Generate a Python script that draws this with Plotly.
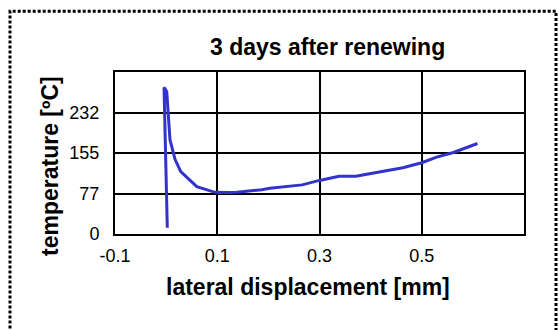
import plotly.graph_objects as go

# data
displacement = [0.0023, -0.0041, 0.0012, 0.0076, 0.0174, 0.0286, 0.060, 0.0957, 0.121,
                0.138, 0.187, 0.203, 0.266, 0.300, 0.338, 0.371, 0.417, 0.463, 0.500,
                0.529, 0.562, 0.609]
temperature = [12, 280, 271.7, 179.5, 142.6, 119, 90.3, 79.6, 79.3,
               79.6, 84.6, 87.3, 93.8, 102.3, 110.1, 110.1, 118.5, 126.4, 136.1,
               146.7, 155.7, 172.8]

x_ticks = [-0.1, 0.1, 0.3, 0.5]
x_ticktext = ["-0.1", "0.1", "0.3", "0.5"]
y_ticks = [0, 77.33, 154.67, 232, 309.33]
y_ticktext = ["0", "77", "155", "232", ""]

W, H = 559, 330
L, R, T, B = 115, 524, 72, 234
pw, ph = R - L, B - T

def px(x):
    return (x - L) / pw

def py(y):
    return (B - y) / ph

FONT = "Liberation Sans, Arial, sans-serif"

fig = go.Figure()
fig.add_trace(go.Scatter(
    x=displacement, y=temperature, mode="lines",
    line=dict(color="#3333CC", width=3), showlegend=False,
))

axis_common = dict(
    showgrid=True, gridcolor="black", gridwidth=2,
    showline=True, linecolor="black", linewidth=2, mirror=True,
    zeroline=False, ticks="",
    tickfont=dict(family=FONT, size=18, color="black"),
)

fig.update_xaxes(range=[-0.1, 0.7], tickvals=x_ticks, ticktext=x_ticktext,
                 ticklabelstandoff=4, **axis_common)
fig.update_yaxes(range=[0, 309.33], tickvals=y_ticks, ticktext=y_ticktext,
                 ticklabelstandoff=10, **axis_common)

annos = [
    dict(text="<b>3 days after renewing</b>", x=px(327.5), y=py(47), size=23),
    dict(text="<b>lateral displacement [mm]</b>", x=px(307.5), y=py(287), size=23),
    dict(text="<b>temperature [ºC]</b>", x=px(50), y=py(166), size=23, angle=-90),
]
for a in annos:
    fig.add_annotation(
        text=a["text"], x=a["x"], y=a["y"], xref="paper", yref="paper",
        xanchor="center", yanchor="middle", showarrow=False,
        textangle=a.get("angle", 0),
        font=dict(family=FONT, size=a["size"], color="black"),
    )

fig.add_shape(
    type="rect", xref="paper", yref="paper",
    x0=px(10), x1=px(556), y0=py(345), y1=py(11.3),
    line=dict(color="black", width=3, dash="3px,2px"),
    fillcolor="rgba(0,0,0,0)", layer="above",
)

fig.update_layout(
    width=W, height=H,
    margin=dict(l=L, r=W - R, t=T, b=H - B, pad=0),
    paper_bgcolor="white", plot_bgcolor="white",
    showlegend=False,
)

fig.write_html("out.html",
               config={"displayModeBar": False, "staticPlot": True},
               post_script="document.body.style.margin='0';document.body.style.overflow='hidden';")
